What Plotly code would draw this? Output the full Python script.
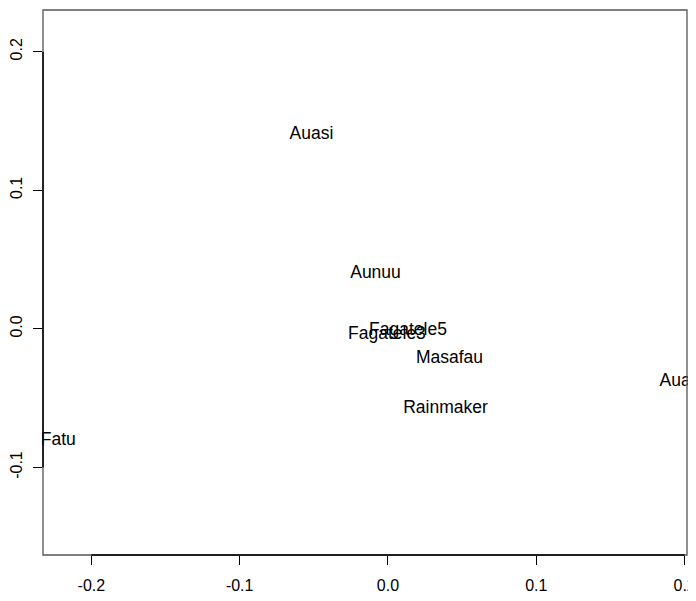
import plotly.graph_objects as go

sites = ["Auasi", "Aunuu", "Fagatele5", "Fagatele3", "Masafau", "Rainmaker", "Aua", "Fatu"]
x_vals = [-0.0516, -0.0084, 0.0135, -0.0007, 0.0415, 0.0388, 0.1936, -0.2223]
y_vals = [0.1405, 0.0396, -0.0015, -0.0044, -0.0217, -0.0578, -0.0383, -0.0808]

x_ticks = [-0.2, -0.1, 0.0, 0.1, 0.2]
x_tick_labels = ["-0.2", "-0.1", "0.0", "0.1", "0.2"]
y_ticks = [-0.1, 0.0, 0.1, 0.2]
y_tick_labels = ["-0.1", "0.0", "0.1", "0.2"]

x_range = [-0.2326, 0.2016]
y_range = [-0.1632, 0.2301]

font = "Liberation Sans, Arial, sans-serif"

fig = go.Figure()
fig.add_trace(go.Scatter(
    x=x_vals, y=y_vals, mode="text", text=sites,
    textposition="middle center",
    textfont=dict(family=font, size=17.5, color="black"),
    cliponaxis=False, hoverinfo="skip", showlegend=False,
))

shapes = [
    dict(type="rect", xref="paper", yref="paper", x0=0, x1=1, y0=0, y1=1,
         line=dict(color="#555555", width=1.3)),
    dict(type="line", xref="x", yref="paper", x0=x_ticks[0], x1=x_ticks[-1], y0=0, y1=0,
         line=dict(color="black", width=1.5)),
    dict(type="line", xref="paper", yref="y", x0=0, x1=0, y0=y_ticks[0], y1=y_ticks[-1],
         line=dict(color="black", width=1.5)),
]

# page body has an 8px margin, so the figure is sized to fit the 696x601 window
fig.update_layout(
    width=688, height=593,
    margin=dict(l=35, r=9, t=2, b=46),
    paper_bgcolor="white", plot_bgcolor="white",
    shapes=shapes,
    xaxis=dict(range=x_range, tickvals=x_ticks, ticktext=x_tick_labels,
               showgrid=False, zeroline=False, showline=False, automargin=False,
               ticks="outside", ticklen=9, tickwidth=1, tickcolor="black",
               tickfont=dict(family=font, size=16, color="black"), ticklabelstandoff=7),
    yaxis=dict(range=y_range, tickvals=y_ticks, ticktext=y_tick_labels,
               showgrid=False, zeroline=False, showline=False, automargin=False,
               ticks="outside", ticklen=9, tickwidth=1, tickcolor="black",
               tickangle=-90,
               tickfont=dict(family=font, size=16, color="black"), ticklabelstandoff=5),
)

fig.write_html("out.html")
